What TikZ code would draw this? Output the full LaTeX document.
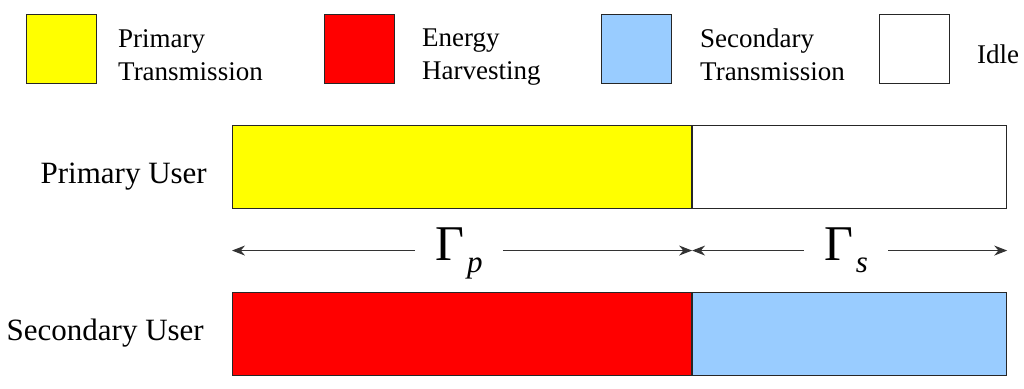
\documentclass[tikz,border=0pt]{standalone}
\usepackage{fontspec}
\newfontfamily\timesfont{Liberation Serif}
\usetikzlibrary{arrows.meta,calc}
\definecolor{ptyellow}{RGB}{255,255,0}
\definecolor{ehred}{RGB}{255,0,0}
\definecolor{stblue}{RGB}{153,204,255}
\newcommand{\gammasub}[1]{{\fontsize{50}{56}\selectfont Γ}\hspace{3pt}\raisebox{-12pt}{\fontsize{31}{36}\selectfont\itshape #1}}
\tikzset{
  box/.style={draw=black!85, line width=1.1pt, inner sep=0pt},
  legbox/.style={box, minimum width=70pt, minimum height=69pt, anchor=north west},
  bar/.style={box, minimum height=83pt, anchor=north west},
  legtext/.style={font=\timesfont\fontsize{27}{33}\selectfont, align=left, inner sep=0pt},
  usertext/.style={font=\timesfont\fontsize{31}{37}\selectfont, inner sep=0pt, anchor=base east},
  gam/.style={font=\timesfont, inner xsep=20pt, inner ysep=0pt, anchor=base},
  dimline/.style={draw=black!80, line width=1.1pt}
}
\begin{document}
\begin{tikzpicture}[x=1pt, y=-1pt, >={Stealth[length=13pt,width=10pt]}]
  \useasboundingbox (0,0) rectangle (1024,388);
  % legend
  \node[legbox, fill=ptyellow] (legpt) at (26,14) {};
  \node[legbox, fill=ehred] (legeh) at (324,14) {};
  \node[legbox, fill=stblue] (legst) at (601,14) {};
  \node[legbox, fill=white] (legidle) at (879,14) {};
  \node[legtext, anchor=north west] (txtpt) at (118,29) {Primary\\Transmission};
  \node[legtext, anchor=north west] (txteh) at (422,29) {Energy\\Harvesting};
  \node[legtext, anchor=north west] (txtst) at (700,29) {Secondary\\Transmission};
  \node[legtext, anchor=base west] (txtidle) at (977,63) {Idle};
  % time slots
  \node[bar, fill=ptyellow, minimum width=459pt] (ptx) at (232,125) {};
  \node[bar, fill=white, minimum width=314pt] (idle) at (ptx.north east) {};
  \node[bar, fill=ehred, minimum width=459pt] (eh) at (232,292) {};
  \node[bar, fill=stblue, minimum width=314pt] (stx) at (eh.north east) {};
  \node[usertext] (pu) at (207,183) {Primary User};
  \node[usertext] (su) at (204,340) {Secondary User};
  % durations
  \coordinate (tl) at ($(ptx.south west)!0.5!(eh.north west)$);
  \coordinate (tm) at ($(ptx.south east)!0.5!(eh.north east)$);
  \coordinate (tr) at ($(idle.south east)!0.5!(stx.north east)$);
  \node[gam] (gp) at (459,260) {\gammasub{p}};
  \node[gam] (gs) at (846,260) {\gammasub{s}};
  \draw[dimline, ->] (gp.west |- tl) -- (tl);
  \draw[dimline, ->] (gp.east |- tl) -- (tm);
  \draw[dimline, ->] (gs.west |- tl) -- (tm);
  \draw[dimline, ->] (gs.east |- tl) -- (tr);
\end{tikzpicture}
\end{document}
